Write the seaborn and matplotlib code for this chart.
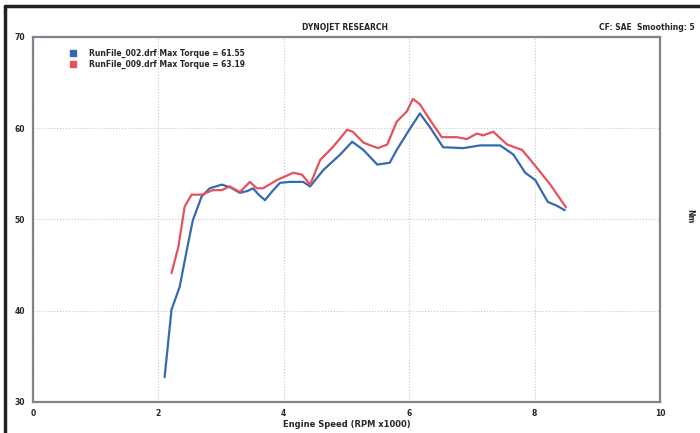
"""Dyno torque comparison chart (two runs)."""

import matplotlib

matplotlib.use("Agg")
import matplotlib.pyplot as plt
import matplotlib.lines as mlines
from matplotlib.ticker import MultipleLocator
import pandas as pd
import seaborn as sns

# -----------------------------------------------------------#
#                           DATA                             #
# -----------------------------------------------------------#

run_names = ["RunFile_002.drf", "RunFile_009.drf"]
max_torque = ["61.55", "63.19"]

rpm_002 = [2.10, 2.21, 2.34, 2.45, 2.55, 2.69, 2.82, 3.01, 3.15, 3.30, 3.42,
           3.51, 3.60, 3.70, 3.82, 3.94, 4.10, 4.31, 4.42, 4.63, 4.90, 5.09,
           5.27, 5.49, 5.69, 5.80, 6.00, 6.17, 6.33, 6.54, 6.86, 7.13, 7.45,
           7.66, 7.85, 8.01, 8.21, 8.35, 8.48]
torque_002 = [32.7, 40.1, 42.6, 46.5, 49.9, 52.5, 53.4, 53.8, 53.5, 52.9, 53.1,
              53.4, 52.7, 52.1, 53.1, 54.0, 54.1, 54.1, 53.6, 55.4, 57.1, 58.5,
              57.6, 56.0, 56.2, 57.6, 59.8, 61.6, 60.1, 57.9, 57.8, 58.1, 58.1,
              57.1, 55.1, 54.3, 51.9, 51.5, 51.0]

rpm_009 = [2.21, 2.32, 2.42, 2.53, 2.69, 2.87, 3.01, 3.14, 3.30, 3.46, 3.57,
           3.67, 3.89, 4.15, 4.29, 4.42, 4.58, 4.78, 5.01, 5.10, 5.27, 5.50,
           5.65, 5.80, 5.96, 6.06, 6.17, 6.33, 6.52, 6.76, 6.92, 7.08, 7.18,
           7.34, 7.56, 7.80, 7.97, 8.25, 8.50]
torque_009 = [44.1, 47.0, 51.4, 52.7, 52.7, 53.2, 53.2, 53.6, 53.0, 54.1, 53.4,
              53.4, 54.3, 55.1, 54.9, 53.8, 56.5, 57.9, 59.8, 59.6, 58.4, 57.8,
              58.2, 60.7, 61.8, 63.2, 62.6, 60.9, 59.0, 59.0, 58.8, 59.4, 59.2,
              59.6, 58.2, 57.6, 56.2, 53.8, 51.3]

x_ticks = [0, 2, 4, 6, 8, 10]
y_ticks = [30, 40, 50, 60, 70]

# -----------------------------------------------------------#
#                           PLOT                             #
# -----------------------------------------------------------#

df = pd.concat(
    [
        pd.DataFrame({"rpm": rpm_002, "torque": torque_002, "run": run_names[0]}),
        pd.DataFrame({"rpm": rpm_009, "torque": torque_009, "run": run_names[1]}),
    ],
    ignore_index=True,
)

sns.set_style("white")
plt.rcParams["font.family"] = ["DejaVu Sans"]
colors = {run_names[0]: "#3569b0", run_names[1]: "#e4525d"}

fig = plt.figure(figsize=(7, 4.33), dpi=100)
ax = fig.add_axes([0.047, 0.072, 0.896, 0.843])

sns.lineplot(
    data=df,
    x="rpm",
    y="torque",
    hue="run",
    palette=colors,
    linewidth=1.6,
    legend=False,
    sort=False,
    ax=ax,
)

ax.set_xlim(0, 10)
ax.set_ylim(30, 70)
ax.set_xticks(x_ticks)
ax.set_yticks(y_ticks)
ax.xaxis.set_minor_locator(MultipleLocator(0.2))
ax.yaxis.set_minor_locator(MultipleLocator(2))
ax.tick_params(axis="both", which="major", labelsize=5.5, length=4,
               direction="inout", color="#8a8d96")
ax.tick_params(axis="both", which="minor", length=3, direction="inout",
               color="#8a8d96")
for lab in ax.get_xticklabels() + ax.get_yticklabels():
    lab.set_fontweight("bold")
ax.grid(True, which="major", linestyle=":", color="#c8c8c8", linewidth=0.8)

for side in ["left", "bottom", "right", "top"]:
    ax.spines[side].set_color("#80838e")
    ax.spines[side].set_linewidth(1.6)

ax.set_xlabel("Engine Speed (RPM x1000)", fontsize=6, fontweight="bold", labelpad=1)
ax.set_ylabel("")
ax.yaxis.set_label_position("right")

handles = [
    mlines.Line2D([], [], color=colors[n], marker="s", linestyle="none",
                  markersize=5, label="{} Max Torque = {}".format(n, t))
    for n, t in zip(run_names, max_torque)
]
ax.legend(handles=handles, loc="upper left", bbox_to_anchor=(0.04, 0.985),
          frameon=False, fontsize=5.5, handletextpad=1.2, labelspacing=0.15,
          prop={"weight": "bold", "size": 5.5})

fig.text(0.493, 0.937, "DYNOJET RESEARCH", ha="center", va="center",
         fontsize=5.5, fontweight="bold")
fig.text(0.993, 0.937, "CF: SAE  Smoothing: 5", ha="right", va="center",
         fontsize=5.5, fontweight="bold")
fig.text(0.985, 0.5, "Nm", ha="center", va="center", rotation=270,
         fontsize=5.5, fontweight="bold")

# scanned page border
fig.add_artist(mlines.Line2D([0.007, 0.007], [0, 0.985], color="#222222",
                             linewidth=2.5, transform=fig.transFigure))
fig.add_artist(mlines.Line2D([0.007, 1.0], [0.985, 0.985], color="#222222",
                             linewidth=2.5, transform=fig.transFigure))

fig.savefig("out.png", dpi=100)
